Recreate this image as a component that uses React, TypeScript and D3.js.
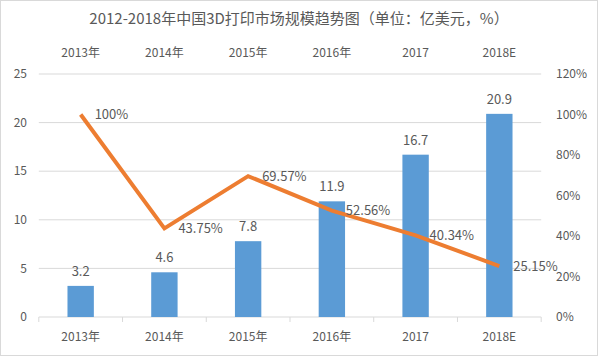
import React from "react";
import * as d3 from "d3";

const categories = ["2013年", "2014年", "2015年", "2016年", "2017", "2018E"];
const marketSize = [3.2, 4.6, 7.8, 11.9, 16.7, 20.9];
const growthRate = [100, 43.75, 69.57, 52.56, 40.34, 25.15];
const growthLabels = ["100%", "43.75%", "69.57%", "52.56%", "40.34%", "25.15%"];
const leftTicks = [0, 5, 10, 15, 20, 25];
const rightTicks = [0, 20, 40, 60, 80, 100, 120];

const W = 598;
const H = 356;
const font = "'Noto Sans CJK SC', 'DejaVu Sans', sans-serif";
const textColor = "#595959";

export default function App() {
  const x = d3.scaleBand<string>().domain(categories).range([38.8, 541.2]).paddingInner(0.685).paddingOuter(0.3425);
  const xc = (c: string) => (x(c) as number) + x.bandwidth() / 2;
  const yL = d3.scaleLinear().domain([0, 25]).range([317, 74]);
  const yR = d3.scaleLinear().domain([0, 120]).range([317, 74]);
  const step = (541.2 - 38.8) / categories.length;
  const line = d3
    .line<number>()
    .x((_, i) => xc(categories[i]))
    .y((d) => yR(d));

  return (
    <div style={{ position: "fixed", left: 0, top: 0 }}>
      <svg width={W} height={H} style={{ display: "block", fontFamily: font }}>
        <rect x={0.5} y={0.5} width={W - 1} height={H - 1} fill="#fff" stroke="#D9D9D9" />
        <text x={299} y={24} textAnchor="middle" fontSize={15} fill={textColor}>
          2012-2018年中国3D打印市场规模趋势图（单位：亿美元，%）
        </text>
        {/* gridlines */}
        {leftTicks.map((t) => (
          <line key={t} x1={38.8} x2={541.2} y1={yL(t)} y2={yL(t)} stroke="#D9D9D9" strokeWidth={1} />
        ))}
        {/* bottom axis ticks */}
        {d3.range(categories.length + 1).map((i) => (
          <line key={i} x1={38.8 + i * step} x2={38.8 + i * step} y1={317} y2={322} stroke="#D9D9D9" />
        ))}
        {/* left axis labels */}
        {leftTicks.map((t) => (
          <text key={t} x={27} y={yL(t)} dy="0.35em" textAnchor="end" fontSize={12} fill={textColor}>
            {t}
          </text>
        ))}
        {/* right axis labels */}
        {rightTicks.map((t) => (
          <text key={t} x={556} y={yR(t)} dy="0.35em" textAnchor="start" fontSize={12} fill={textColor}>
            {t}%
          </text>
        ))}
        {/* category labels top & bottom */}
        {categories.map((c) => (
          <g key={c}>
            <text x={xc(c)} y={53} dy="0.35em" textAnchor="middle" fontSize={12} fill={textColor}>
              {c}
            </text>
            <text x={xc(c)} y={337} dy="0.35em" textAnchor="middle" fontSize={12} fill={textColor}>
              {c}
            </text>
          </g>
        ))}
        {/* bars */}
        {marketSize.map((v, i) => (
          <rect
            key={i}
            x={x(categories[i])}
            y={yL(v)}
            width={x.bandwidth()}
            height={yL(0) - yL(v)}
            fill="#5B9BD5"
          />
        ))}
        {marketSize.map((v, i) => (
          <text key={i} x={xc(categories[i])} y={yL(v) - 10} textAnchor="middle" fontSize={13} fill={textColor}>
            {v.toFixed(1)}
          </text>
        ))}
        {/* line */}
        <path d={line(growthRate) || ""} fill="none" stroke="#ED7D31" strokeWidth={4} strokeLinejoin="miter" />
        {growthRate.map((v, i) => (
          <text key={i} x={xc(categories[i]) + 14} y={yR(v)} dy="0.35em" textAnchor="start" fontSize={13} fill={textColor}>
            {growthLabels[i]}
          </text>
        ))}
      </svg>
    </div>
  );
}
